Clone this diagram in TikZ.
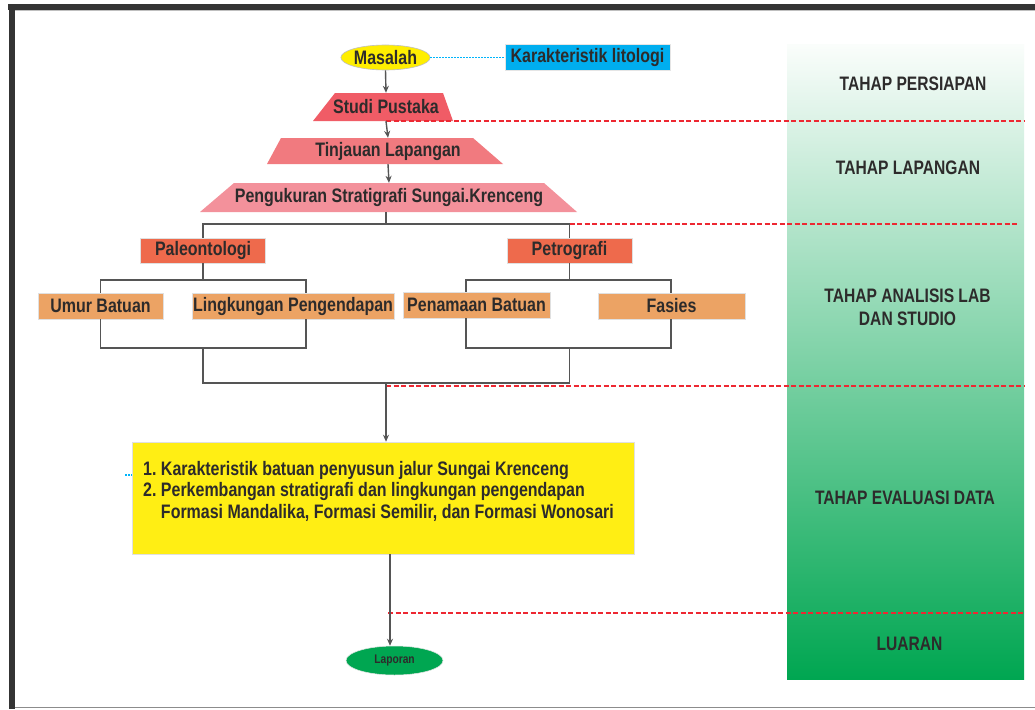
\documentclass[tikz,border=0pt]{standalone}
\usepackage{fontspec}
\setmainfont{Liberation Sans}
\newfontfamily\fcfont[FakeStretch=0.82]{Liberation Sans Bold}
\newfontfamily\colfont[FakeStretch=0.80]{Liberation Sans Bold}
\usetikzlibrary{shapes.geometric,arrows.meta}
\definecolor{txt}{RGB}{45,43,43}
\definecolor{cSP}{RGB}{240,92,102}
\definecolor{cTL}{RGB}{241,122,127}
\definecolor{cPS}{RGB}{243,145,155}
\definecolor{cMid}{RGB}{238,106,76}
\definecolor{cLeaf}{RGB}{236,163,100}
\definecolor{cYelM}{RGB}{255,238,0}
\definecolor{cYel}{RGB}{255,238,20}
\definecolor{cCyan}{RGB}{0,174,239}
\definecolor{cCyanL}{RGB}{0,180,250}
\definecolor{cGreen}{RGB}{0,166,81}
\definecolor{cGreenM}{RGB}{135,212,172}
\definecolor{cGreenT}{RGB}{250,253,251}
\definecolor{cRed}{RGB}{237,40,50}
\definecolor{cLine}{RGB}{85,85,85}
\definecolor{cFrame}{RGB}{52,52,52}
\begin{document}
\begin{tikzpicture}[x=1pt,y=-1pt,
  every node/.style={text=txt},
  fc/.style={font=\fcfont\fontsize{19.5}{21.5}\selectfont},
  col/.style={font=\colfont\fontsize{19.5}{22.5}\selectfont, align=center, inner sep=0pt},
  conn/.style={draw=cLine, line width=1.4pt},
  arr/.style={conn, -{Stealth[length=7pt,width=6pt]}},
  phase/.style={draw=cRed, line width=2.4pt, dash pattern=on 5pt off 2.5pt},
  cydot/.style={draw=cCyanL, line width=1.6pt, dash pattern=on 2pt off 1pt},
  boxmid/.style={fc, fill=cMid, draw=black!12, line width=0.5pt, inner sep=0pt, minimum width=125, minimum height=25},
  boxleaf/.style={fc, fill=cLeaf, draw=black!12, line width=0.5pt, inner sep=0pt, minimum height=26},
  trap/.style={fc, inner sep=0pt},
]
\useasboundingbox (0,0) rectangle (1035,709);
\fill[white] (0,0) rectangle (1035,709);
% frame
\fill[cFrame] (8,4) rectangle (1035,10);
\fill[cFrame] (9,4) rectangle (15,709);
\draw[black!25, line width=0.8pt] (15,10.6) -- (1035,10.6);
\draw[black!45, line width=1pt] (15,707.5) -- (1035,707.5);

% phase column
\shade[top color=cGreenT, middle color=cGreenM, bottom color=cGreen] (787,45) rectangle (1024,679);
\coordinate (colR) at (1024,0);
\coordinate (colR2) at (1018,0);

\node[col] (ph1) at (913,84) {TAHAP PERSIAPAN};
\node[col] (ph2) at (908,167.5) {TAHAP LAPANGAN};
\node[col] (ph3) at (907.5,307.5) {TAHAP ANALISIS LAB\\DAN STUDIO};
\node[col] (ph4) at (905,497.5) {TAHAP EVALUASI DATA};
\node[col] (ph5) at (909.5,643.5) {LUARAN};

% trapezoid fills
\fill[cSP] (313,121) -- (335,93) -- (443,93) -- (453,121) -- cycle;
\fill[cTL] (267,164) -- (281,138) -- (473,138) -- (503,164) -- cycle;
\fill[cPS] (200,212) -- (234,183) -- (544,183) -- (577,212) -- cycle;

% nodes
\node[ellipse, fc, fill=cYelM, draw=black!25, line width=0.6pt, minimum width=89, minimum height=25, inner sep=0pt] (ms) at (385.5,57.5) {Masalah};
\node[fc, fill=cCyan, draw=black!10, line width=0.5pt, minimum width=165, minimum height=26, inner sep=0pt] (kl) at (587.5,57.5) {Karakteristik litologi};
\node[trap, minimum width=140, minimum height=28] (sp) at (386,107) {Studi Pustaka};
\node[trap, minimum width=236, minimum height=26] (tl) at (388,151) {Tinjauan Lapangan};
\node[trap, minimum width=377, minimum height=29] (pg) at (389,197.5) {Pengukuran Stratigrafi Sungai.Krenceng};

\node[boxmid] (pal) at (203,250.5) {Paleontologi};
\node[boxmid] (pet) at (569.5,250.5) {Petrografi};

\node[boxleaf, minimum width=125] (umur) at (100.5,306) {Umur Batuan};
\node[boxleaf, minimum width=202] (ling) at (293,306) {Lingkungan Pengendapan};
\node[boxleaf, minimum width=147] (pen) at (476.5,305) {Penamaan Batuan};
\node[boxleaf, minimum width=147] (fas) at (671.5,306) {Fasies};

\node[fill=cYel, draw=black!12, line width=0.5pt, minimum width=502, minimum height=112, inner sep=0pt] (res) at (383,498) {};
\node[fc, anchor=west, align=left, inner sep=0pt] (rtext) at (143,491)
  {1.~Karakteristik batuan penyusun jalur Sungai Krenceng\\
   2.~Perkembangan stratigrafi dan lingkungan pengendapan\\
   \phantom{2.~}Formasi Mandalika, Formasi Semilir, dan Formasi Wonosari};

\node[ellipse, fill=cGreen, draw=black!10, line width=0.5pt, minimum width=97, minimum height=29, inner sep=0pt,
  font=\fcfont\fontsize{12.5}{14}\selectfont] (lap) at (394.5,660.5) {Laporan};

% helper coordinates
\coordinate (b1) at (386,224);
\coordinate (b2) at (386,280);
\coordinate (b3) at (386,348);
\coordinate (b4) at (386,383);
\coordinate (p4) at (388,613);
\coordinate (cy) at (125,475);

% dashed phase separators
\draw[phase] (sp.south) -- (sp.south -| colR);
\draw[phase] (pet.north |- b1) -- (b1 -| colR2);
\draw[phase] ([yshift=-3pt]b4) -- ([yshift=-3pt]b4 -| colR);
\draw[phase] (p4) -- (p4 -| colR);

% connectors
\draw[cydot] (ms.east) -- (kl.west);
\draw[cydot] (cy) -- (cy -| res.west);
\draw[arr] (ms.south) -- (sp.north);
\draw[arr] (sp.south) -- (tl.north);
\draw[arr] (tl.south) -- (pg.north);

\draw[conn] (pg.south -| b1) -- (b1);
\draw[conn] (pal.north) -- (pal.north |- b1) -- (pet.north |- b1) -- (pet.north);

\draw[conn] (pal.south) -- (pal.south |- b2);
\draw[conn] (umur.north) -- (umur.north |- b2) -- ([xshift=13pt]ling.north |- b2) -- ([xshift=13pt]ling.north);
\draw[conn] (pet.south) -- (pet.south |- b2);
\draw[conn] ([xshift=-10.5pt]pen.north) -- ([xshift=-10.5pt]pen.north |- b2) -- ([xshift=-0.5pt]fas.north |- b2) -- ([xshift=-0.5pt]fas.north);

\draw[conn] (umur.south) -- (umur.south |- b3) -- ([xshift=13pt]ling.south |- b3) -- ([xshift=13pt]ling.south);
\draw[conn] ([xshift=-10.5pt]pen.south) -- ([xshift=-10.5pt]pen.south |- b3) -- ([xshift=-0.5pt]fas.south |- b3) -- ([xshift=-0.5pt]fas.south);
\draw[conn] (pal.south |- b3) -- (pal.south |- b4) -- (pet.south |- b4) -- (pet.south |- b3);

\draw[arr] (b4) -- (b4 |- res.north);
\draw[arr] ([xshift=7pt]res.south) -- ([xshift=7pt]res.south |- lap.north);
\end{tikzpicture}
\end{document}
